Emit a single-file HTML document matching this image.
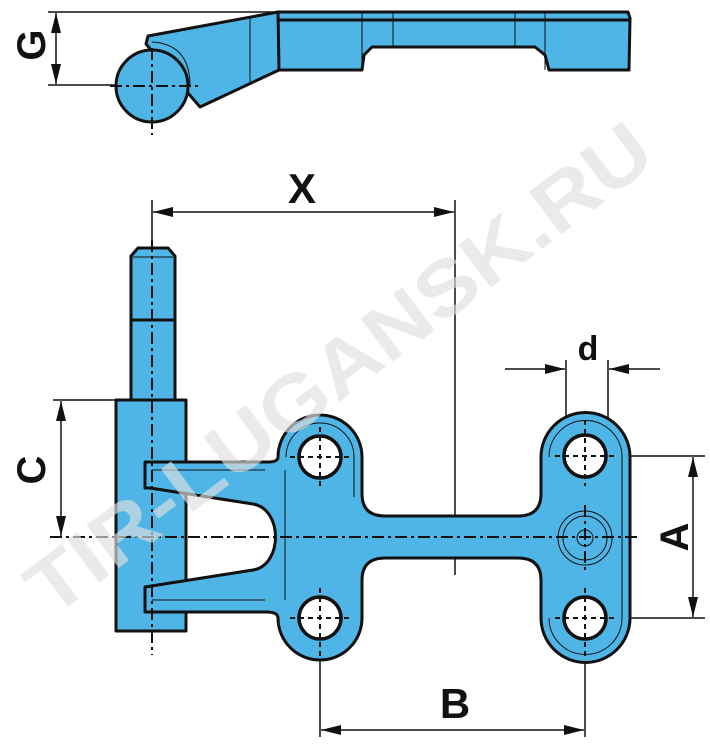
<!DOCTYPE html>
<html><head><meta charset="utf-8"><style>
html,body{margin:0;padding:0;background:#fff;}
svg{display:block;}
text{font-family:"Liberation Sans",Arial,sans-serif;}
</style></head><body>
<svg width="710" height="749" viewBox="0 0 710 749" xmlns="http://www.w3.org/2000/svg">
<defs>
<marker id="ar" viewBox="0 0 20 10" refX="20" refY="5" markerWidth="20" markerHeight="10" markerUnits="userSpaceOnUse" orient="auto-start-reverse"><path d="M0,0 L20,5 L0,10 Z" fill="#111"/></marker>
</defs>
<g stroke="#111" fill="none" stroke-width="1.5">
<!-- G dim -->
<line x1="48" y1="12" x2="280" y2="12"/>
<line x1="48" y1="85" x2="120" y2="85"/>
<line x1="56" y1="13" x2="56" y2="84" marker-start="url(#ar)" marker-end="url(#ar)"/>
</g>
<!-- top view -->
<g stroke="#111" stroke-width="3" stroke-linejoin="round" fill="#4fb5e6">
<path d="M148,36 L146,44 L200,107 L279,70 L279,20 L278,12 Z"/>
<path d="M278,12 L628,12 L630,18 L629,70 L549,70 L545,55 L535,47 L372,47 L364,55 L362,70 L279,70 Z"/>
<circle cx="152" cy="86" r="36"/>
</g>
<g stroke="#111" stroke-width="1" fill="none">
<line x1="279" y1="20" x2="629" y2="20" stroke-width="3"/>
<line x1="362" y1="12" x2="362" y2="70"/><line x1="545" y1="12" x2="545" y2="70"/>
<line x1="393" y1="12" x2="393" y2="47"/><line x1="515" y1="12" x2="515" y2="47"/>
<line x1="250" y1="18" x2="250" y2="84"/>
<path d="M152,42 Q190,44 190,86"/>
</g>
<g stroke="#111" stroke-width="2" fill="none" stroke-dasharray="12 4 3 4">
<line x1="152" y1="48" x2="152" y2="135"/>
<line x1="110" y1="86" x2="200" y2="86"/>
</g>
<!-- X dim -->
<g stroke="#111" stroke-width="1.5" fill="none">
<line x1="152" y1="200" x2="152" y2="250"/>
<line x1="455" y1="200" x2="455" y2="575"/>
<line x1="153" y1="212" x2="454" y2="212" marker-start="url(#ar)" marker-end="url(#ar)"/>
<!-- C dim -->
<line x1="53" y1="400" x2="118" y2="400"/>
<line x1="61" y1="401" x2="61" y2="536" marker-start="url(#ar)" marker-end="url(#ar)"/>
<!-- d -->
<line x1="566" y1="360" x2="566" y2="440"/>
<line x1="608" y1="360" x2="608" y2="440"/>
<line x1="505" y1="369" x2="565" y2="369" marker-end="url(#ar)"/>
<line x1="660" y1="369" x2="609" y2="369" marker-end="url(#ar)"/>
<!-- A -->
<line x1="605" y1="456" x2="705" y2="456"/>
<line x1="605" y1="618" x2="705" y2="618"/>
<line x1="693" y1="457" x2="693" y2="617" marker-start="url(#ar)" marker-end="url(#ar)"/>
<!-- B -->
<line x1="320" y1="640" x2="320" y2="737"/>
<line x1="585" y1="640" x2="585" y2="737"/>
<line x1="321" y1="730" x2="584" y2="730" marker-start="url(#ar)" marker-end="url(#ar)"/>
</g>
<!-- pin -->
<g stroke="#111" stroke-width="3" stroke-linejoin="round" fill="#4fb5e6">
<path d="M131,400 L131,256 L138,248 L168,248 L175,256 L175,400 Z"/>
<rect x="116" y="400" width="70" height="231"/>
<path d="M145,462 L268,462 Q278,462 278,457 A42 42 0 0 1 362 457 L362,494 Q362,516 385,516 L518,516 Q541,516 541,494 L541,457 A44.5 44.5 0 0 1 630 457 L630,618 A44.5 44.5 0 0 1 541 618 L541,580 Q541,558 518,558 L385,558 Q362,558 362,580 L362,618 A42 42 0 0 1 278 618 Q278,612 266,612 L145,612 L145,587 L253,570 C283,565 283,509 253,504 L150,488 L145,488 Z"/>
</g>
<g stroke="#111" stroke-width="3">
<line x1="131" y1="320" x2="175" y2="320"/>
<line x1="133" y1="257" x2="173" y2="257" stroke-width="1"/>
</g>
<g stroke="#111" stroke-width="1" fill="none">
<path d="M286,457 A34 34 0 0 1 354 457 L354,497"/>
<path d="M549,457 A36 36 0 0 1 622 457 L622,618 A36 36 0 0 1 549 618"/>
<line x1="285" y1="470" x2="285" y2="600"/>
<line x1="152" y1="470" x2="265" y2="470"/><line x1="152" y1="600" x2="265" y2="600"/>
<circle cx="585" cy="538" r="27"/><circle cx="585" cy="538" r="22"/><circle cx="585" cy="538" r="8"/>
</g>
<g stroke="#111" stroke-width="3.5" fill="#fff">
<circle cx="320" cy="457" r="21"/><circle cx="320" cy="618" r="21"/>
<circle cx="585" cy="456" r="21"/><circle cx="585" cy="618" r="21"/>
</g>
<g stroke="#111" stroke-width="2" fill="none" stroke-dasharray="12 4 3 4">
<line x1="152" y1="240" x2="152" y2="655"/>
<line x1="50" y1="537" x2="640" y2="537"/>
<line x1="585" y1="505" x2="585" y2="570"/>
</g>
<g stroke="#111" stroke-width="2" fill="none" stroke-dasharray="5 4">
<line x1="290" y1="457" x2="350" y2="457"/><line x1="320" y1="427" x2="320" y2="487"/>
<line x1="290" y1="618" x2="350" y2="618"/><line x1="320" y1="588" x2="320" y2="660"/>
<line x1="555" y1="456" x2="615" y2="456"/><line x1="585" y1="420" x2="585" y2="486"/>
<line x1="555" y1="618" x2="615" y2="618"/><line x1="585" y1="588" x2="585" y2="660"/>
</g>
<!-- labels -->
<g fill="#111" font-weight="bold">
<text x="302" y="203" font-size="42" text-anchor="middle">X</text>
<text x="588" y="360" font-size="34" text-anchor="middle">d</text>
<text x="455" y="718" font-size="42" text-anchor="middle">B</text>
<text transform="translate(45,470) rotate(-90)" font-size="40" text-anchor="middle">C</text>
<text transform="translate(45,45) rotate(-90)" font-size="40" text-anchor="middle">G</text>
<text transform="translate(688,537) rotate(-90)" font-size="40" text-anchor="middle">A</text>
</g>
<!-- watermark -->
<text transform="translate(355,390) rotate(-37)" font-size="78" font-weight="bold" text-anchor="middle" fill="#e0e0e0" opacity="0.65" textLength="760" lengthAdjust="spacingAndGlyphs">TIR-LUGANSK.RU</text>
</svg>
</body></html>
